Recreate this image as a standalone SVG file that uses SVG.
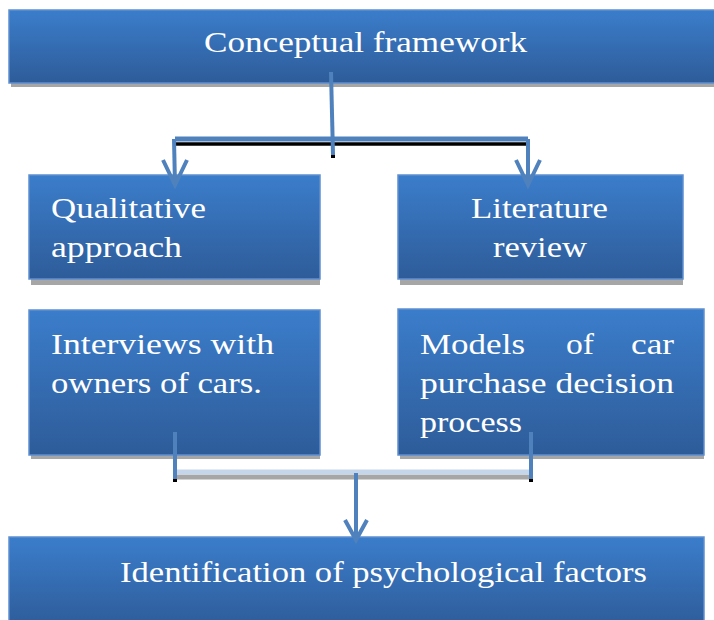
<svg xmlns="http://www.w3.org/2000/svg" width="714" height="620" viewBox="0 0 714 620">
<defs>
<linearGradient id="g" x1="0" y1="0" x2="0" y2="1">
<stop offset="0" stop-color="#3b7dcb"/>
<stop offset="1" stop-color="#2e5c99"/>
</linearGradient>
</defs>
<style>
.box{fill:url(#g);stroke:#5e8fcf;stroke-width:1.5}
.sh{fill:#a6a6a6}
.t{font-family:"Liberation Serif","DejaVu Serif",serif;font-size:29px;fill:#ffffff}
.c{stroke:#4f81bd;fill:none;stroke-linecap:butt}
.k{stroke:#000;fill:none}
</style>
<rect width="714" height="620" fill="#ffffff"/>
<g id="n-conceptual">
<rect class="sh" x="11" y="80" width="703" height="7"/>
<rect class="box" x="9" y="10" width="710" height="73"/>
<text class="t" x="204" y="52" textLength="323" lengthAdjust="spacingAndGlyphs">Conceptual framework</text>
</g>
<g id="n-qualitative">
<rect class="sh" x="31" y="276" width="289" height="9"/>
<rect class="box" x="29" y="175" width="291" height="104"/>
<text class="t" x="51" y="218" textLength="155" lengthAdjust="spacingAndGlyphs">Qualitative</text>
<text class="t" x="51" y="257" textLength="131" lengthAdjust="spacingAndGlyphs">approach</text>
</g>
<g id="n-literature">
<rect class="sh" x="400" y="276" width="283" height="9"/>
<rect class="box" x="398" y="175" width="285" height="104"/>
<text class="t" x="471" y="218" textLength="137" lengthAdjust="spacingAndGlyphs">Literature</text>
<text class="t" x="493" y="257" textLength="94" lengthAdjust="spacingAndGlyphs">review</text>
</g>
<g id="n-interviews">
<rect class="sh" x="31" y="452" width="289" height="7"/>
<rect class="box" x="29" y="310" width="291" height="145"/>
<text class="t" x="51" y="354" textLength="223" lengthAdjust="spacingAndGlyphs">Interviews with</text>
<text class="t" x="51" y="393" textLength="211" lengthAdjust="spacingAndGlyphs">owners of cars.</text>
</g>
<g id="n-models">
<rect class="sh" x="400" y="452" width="304" height="7"/>
<rect class="box" x="398" y="309" width="306" height="146"/>
<text class="t" x="420" y="354" textLength="105" lengthAdjust="spacingAndGlyphs">Models</text>
<text class="t" x="566" y="354" textLength="28" lengthAdjust="spacingAndGlyphs">of</text>
<text class="t" x="631" y="354" textLength="43" lengthAdjust="spacingAndGlyphs">car</text>
<text class="t" x="420" y="393" textLength="254" lengthAdjust="spacingAndGlyphs">purchase decision</text>
<text class="t" x="420" y="432" textLength="102" lengthAdjust="spacingAndGlyphs">process</text>
</g>
<g id="n-identification">
<rect class="box" x="9" y="537" width="695" height="90"/>
<text class="t" x="120" y="582" textLength="527" lengthAdjust="spacingAndGlyphs">Identification of psychological factors</text>
</g>
<g id="connectors">
<line class="k" x1="175" y1="144" x2="528" y2="144" stroke-width="3.5"/>
<line class="c" x1="175" y1="139" x2="528" y2="139" stroke-width="5"/>
<line class="c" x1="331" y1="72" x2="333" y2="155" stroke-width="4"/>
<rect x="331" y="155" width="4" height="3" fill="#000"/>
<polyline class="c" points="174,139 175,185" stroke-width="4"/>
<polyline class="c" points="163,160 175,185 187,160" stroke-width="4" stroke-linejoin="miter"/>
<polyline class="c" points="528,139 528,185" stroke-width="4"/>
<polyline class="c" points="516,160 528,185 540,160" stroke-width="4" stroke-linejoin="miter"/>
<line x1="177" y1="477" x2="531" y2="477" stroke="#a6a6a6" stroke-width="5"/>
<line x1="177" y1="472" x2="531" y2="472" stroke="#c6d6ea" stroke-width="5"/>
<line class="c" x1="175" y1="432" x2="175" y2="480" stroke-width="4"/>
<rect x="173" y="479" width="4" height="3" fill="#000"/>
<line class="c" x1="531" y1="432" x2="531" y2="480" stroke-width="4"/>
<rect x="529" y="479" width="4" height="3" fill="#000"/>
<line class="c" x1="356" y1="473" x2="356" y2="540" stroke-width="4"/>
<polyline class="c" points="345,520 356,540 367,520" stroke-width="4"/>
</g>
</svg>
